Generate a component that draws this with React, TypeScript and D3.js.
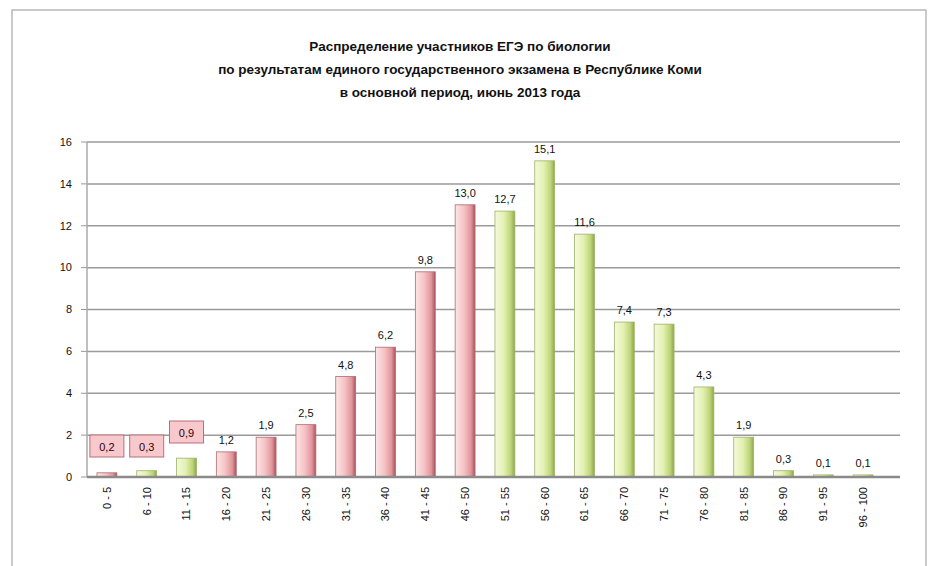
import React from "react";
import * as d3 from "d3";

const categories = [
  "0 - 5", "6 - 10", "11 - 15", "16 - 20", "21 - 25", "26 - 30", "31 - 35", "36 - 40",
  "41 - 45", "46 - 50", "51 - 55", "56 - 60", "61 - 65", "66 - 70", "71 - 75", "76 - 80",
  "81 - 85", "86 - 90", "91 - 95", "96 - 100",
];
const values = [0.2, 0.3, 0.9, 1.2, 1.9, 2.5, 4.8, 6.2, 9.8, 13.0, 12.7, 15.1, 11.6, 7.4, 7.3, 4.3, 1.9, 0.3, 0.1, 0.1];
const groups = ["r", "g", "g", "r", "r", "r", "r", "r", "r", "r", "g", "g", "g", "g", "g", "g", "g", "g", "g", "g"];
const yTicks = [0, 2, 4, 6, 8, 10, 12, 14, 16];
const titleLines = [
  "Распределение участников ЕГЭ по биологии",
  "по результатам единого государственного экзамена в Республике Коми",
  "в основной период, июнь 2013 года",
];

const W = 935;
const H = 566;
const left = 87;
const right = 883;
const gridRight = 900;
const top = 142;
const bottom = 477;

export default function App() {
  const x = d3.scaleBand<string>().domain(categories).range([left, right]).paddingInner(0.5).paddingOuter(0.25);
  const y = d3.scaleLinear().domain([0, 16]).range([bottom, top]);
  const fmt = (v: number) => d3.format(".1f")(v).replace(".", ",");

  return (
    <svg width={W} height={H} style={{ position: "absolute", left: 0, top: 0, background: "#fff" }}
      fontFamily="Liberation Sans, Arial, sans-serif">
      <defs>
        <linearGradient id="gr" x1="0" x2="1" y1="0" y2="0">
          <stop offset="0%" stopColor="#fbe6e6" />
          <stop offset="45%" stopColor="#f6c2c4" />
          <stop offset="80%" stopColor="#e0959a" />
          <stop offset="100%" stopColor="#a9525c" />
        </linearGradient>
        <linearGradient id="gg" x1="0" x2="1" y1="0" y2="0">
          <stop offset="0%" stopColor="#f4f9dc" />
          <stop offset="45%" stopColor="#e4f1b2" />
          <stop offset="80%" stopColor="#bed47a" />
          <stop offset="100%" stopColor="#8ea64a" />
        </linearGradient>
      </defs>
      <rect x={12} y={10} width={914} height={560} fill="#fff" stroke="#b8b8b8" strokeWidth={1.5} />
      {titleLines.map((t, i) => (
        <text key={i} x={460} y={51 + i * 23} textAnchor="middle" fontSize={13.5} fontWeight="bold" fill="#111">
          {t}
        </text>
      ))}
      {yTicks.map((t) => (
        <g key={t}>
          {t > 0 && (
            <line x1={left} x2={gridRight} y1={y(t)} y2={y(t)} stroke="#9a9a9a" strokeWidth={1.5} />
          )}
          <line x1={left - 6} x2={left} y1={y(t)} y2={y(t)} stroke="#999" />
          <text x={72} y={y(t)} dy="0.35em" textAnchor="end" fontSize={11} fill="#111">
            {t}
          </text>
        </g>
      ))}
      <line x1={left} x2={left} y1={top} y2={bottom} stroke="#aaa" strokeWidth={1.5} />
      {values.map((v, i) => {
        const c = categories[i];
        const bx = x(c)!;
        const bw = x.bandwidth();
        const isR = groups[i] === "r";
        return (
          <rect key={c} x={bx} y={y(v)} width={bw} height={bottom - y(v)}
            fill={isR ? "url(#gr)" : "url(#gg)"} stroke={isR ? "#b06a72" : "#9fb26a"} strokeWidth={0.8} />
        );
      })}
      <line x1={left} x2={gridRight} y1={bottom} y2={bottom} stroke="#8a8a8a" strokeWidth={2.5} />
      {values.map((v, i) => {
        const c = categories[i];
        const cx = x(c)! + x.bandwidth() / 2;
        if (i < 3) {
          const ly = i === 2 ? 433 : 447;
          return (
            <g key={c}>
              <rect x={cx - 17} y={ly - 12} width={34} height={22} fill="#f8c9cc" stroke="#b87078" strokeWidth={1} />
              <text x={cx} y={ly} dy="0.35em" textAnchor="middle" fontSize={11} fill="#300">
                {fmt(v)}
              </text>
            </g>
          );
        }
        return (
          <text key={c} x={cx} y={y(v) - 8} textAnchor="middle" fontSize={11} fill="#111">
            {fmt(v)}
          </text>
        );
      })}
      {categories.map((c) => {
        const cx = x(c)! + x.bandwidth() / 2;
        return (
          <text key={c} transform={`translate(${cx},${bottom + 10}) rotate(-90)`} textAnchor="end" dy="0.35em"
            fontSize={11} fill="#111">
            {c}
          </text>
        );
      })}
    </svg>
  );
}
